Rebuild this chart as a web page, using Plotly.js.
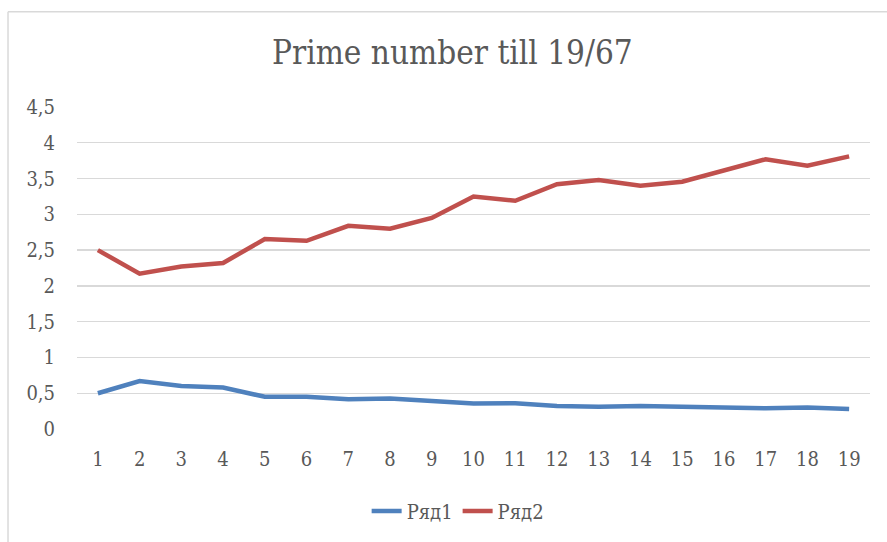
<!DOCTYPE html>
<html>
<head>
<meta charset="utf-8">
<script src="https://cdn.plot.ly/plotly-3.0.1.min.js"></script>
<style>html,body{margin:0;padding:0;background:#fff;}#chart{width:887px;height:542px;}</style>
</head>
<body>
<div id="chart"></div>
<script>
const categories = ["1","2","3","4","5","6","7","8","9","10","11","12","13","14","15","16","17","18","19"];
const series1Name = "Ряд1";
const series2Name = "Ряд2";
const series1 = [0.50,0.67,0.60,0.58,0.45,0.45,0.415,0.425,0.39,0.355,0.36,0.32,0.31,0.32,0.31,0.30,0.29,0.30,0.28];
const series2 = [2.50,2.17,2.27,2.32,2.655,2.63,2.84,2.80,2.95,3.25,3.19,3.42,3.48,3.40,3.455,3.62,3.77,3.68,3.81];
const yTicks = [0,0.5,1,1.5,2,2.5,3,3.5,4,4.5];
const yTickLabels = ["0","0,5","1","1,5","2","2,5","3","3,5","4","4,5"];
const titleText = "Prime number till 19/67";

const font = "'DejaVu Serif Condensed', 'DejaVu Serif', serif";
const textColor = "#595959";

const traces = [
  {x: categories, y: series1, name: series1Name, type: "scatter", mode: "lines",
   line: {color: "#4f81bd", width: 4.5}},
  {x: categories, y: series2, name: series2Name, type: "scatter", mode: "lines",
   line: {color: "#c0504d", width: 4.5}}
];

const layout = {
  width: 887, height: 542,
  margin: {l: 77, r: 17, t: 107, b: 110},
  paper_bgcolor: "#fff", plot_bgcolor: "#fff",
  font: {family: font, color: textColor, size: 20},
  title: {text: titleText, font: {family: font, size: 33, color: textColor},
          x: 0.51, xanchor: "center", y: 0.904, yanchor: "middle", yref: "container"},
  xaxis: {type: "category", range: [-0.5, 18.5], showgrid: false, zeroline: false,
          showline: false, ticks: "outside", ticklen: 12, tickcolor: "rgba(0,0,0,0)",
          tickfont: {family: font, size: 20, color: textColor}, fixedrange: true},
  yaxis: {range: [0, 4.5], tickvals: yTicks, ticktext: yTickLabels,
          showgrid: true, gridcolor: "#d9d9d9", gridwidth: 1.3, zeroline: false,
          showline: false, ticks: "outside", ticklen: 17, tickcolor: "rgba(0,0,0,0)",
          tickfont: {family: font, size: 20, color: textColor}, fixedrange: true},
  showlegend: true,
  legend: {orientation: "h", x: 0.48, xanchor: "center", y: -0.255, yanchor: "middle",
           font: {family: font, size: 20, color: textColor}, traceorder: "normal", itemwidth: 30},
  shapes: [
    {type: "line", xref: "paper", yref: "paper", x0: -0.087, x1: 1.03, y0: 1.296, y1: 1.296,
     line: {color: "#d9d9d9", width: 1.5}},
    {type: "line", xref: "paper", yref: "paper", x0: -0.087, x1: -0.087, y0: 1.296, y1: -0.4,
     line: {color: "#d9d9d9", width: 1.5}}
  ]
};

Plotly.newPlot("chart", traces, layout, {displayModeBar: false, staticPlot: true});
</script>
</body>
</html>
